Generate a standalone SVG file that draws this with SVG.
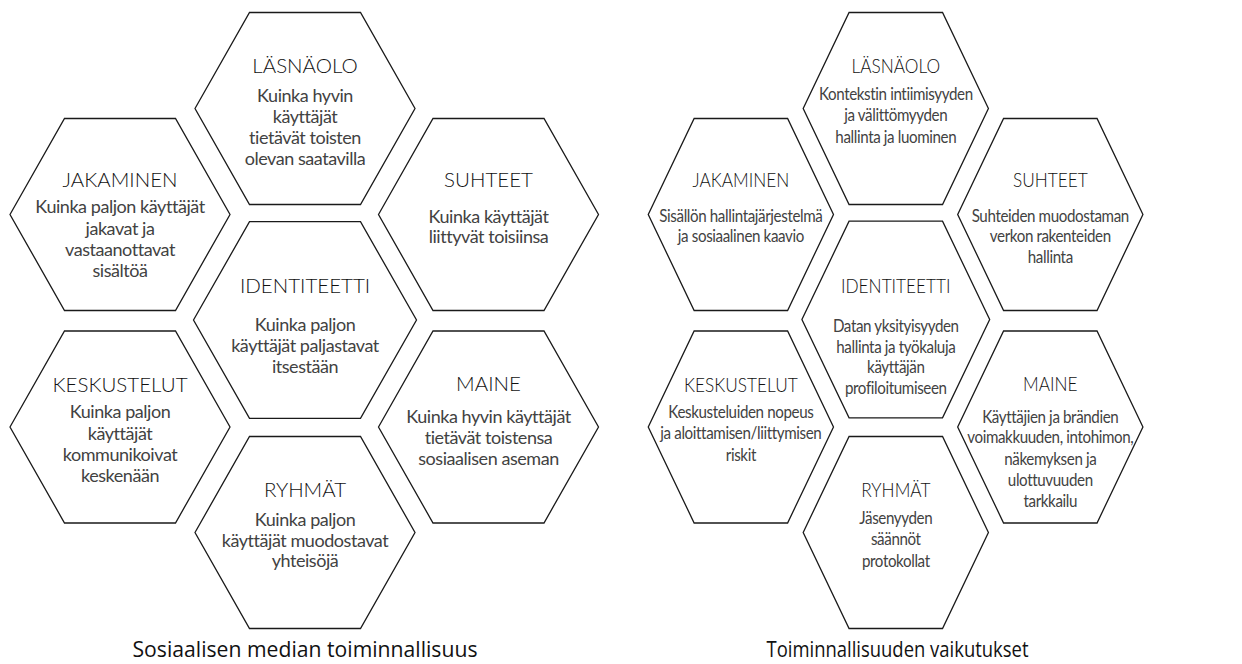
<svg xmlns="http://www.w3.org/2000/svg" width="1242" height="664" viewBox="0 0 1242 664">
<style>
.hex{fill:#fff;stroke:#1a1a1a;stroke-width:1.3;stroke-linejoin:miter;vector-effect:non-scaling-stroke}
.h{font-family:Lato,"Liberation Sans",sans-serif;font-weight:300;font-size:20.5px;fill:#111;text-anchor:middle}
.b{font-family:Lato,"Liberation Sans",sans-serif;font-size:18px;fill:#424242;text-anchor:middle;letter-spacing:-0.45px}
.t{font-family:"Open Sans","Liberation Sans",sans-serif;font-size:21px;fill:#111;text-anchor:middle}
</style>
<defs>
<polygon id="hx" class="hex" points="-110,0 -55.5,-96 55.5,-96 110,0 55.5,96 -55.5,96"/>
<polygon id="hxc" class="hex" points="-111.5,0 -55.5,-98.3 55.5,-98.3 111.5,0 55.5,98.3 -55.5,98.3"/>
</defs>
<rect width="1242" height="664" fill="#fff"/>
<g id="left-cluster" transform="translate(305,0)">
 <g id="l-lasnaolo">
  <use href="#hx" x="0" y="108.5"/>
  <text class="h" x="0" y="73.3">LÄSNÄOLO</text>
  <text class="b"><tspan x="0" y="102">Kuinka hyvin</tspan><tspan x="0" y="123">käyttäjät</tspan><tspan x="0" y="144">tietävät toisten</tspan><tspan x="0" y="165">olevan saatavilla</tspan></text>
 </g>
 <g id="l-jakaminen">
  <use href="#hx" x="-185" y="214.5"/>
  <text class="h" x="-185" y="187.3">JAKAMINEN</text>
  <text class="b"><tspan x="-185" y="213.3">Kuinka paljon käyttäjät</tspan><tspan x="-185" y="234.5">jakavat ja</tspan><tspan x="-185" y="255.5">vastaanottavat</tspan><tspan x="-185" y="276.7">sisältöä</tspan></text>
 </g>
 <g id="l-suhteet">
  <use href="#hx" x="183.5" y="214.5"/>
  <text class="h" x="183.5" y="186.7">SUHTEET</text>
  <text class="b"><tspan x="183.5" y="222.7">Kuinka käyttäjät</tspan><tspan x="183.5" y="243">liittyvät toisiinsa</tspan></text>
 </g>
 <g id="l-identiteetti">
  <use href="#hxc" x="0" y="320"/>
  <text class="h" x="0" y="293">IDENTITEETTI</text>
  <text class="b"><tspan x="0" y="331">Kuinka paljon</tspan><tspan x="0" y="352">käyttäjät paljastavat</tspan><tspan x="0" y="373">itsestään</tspan></text>
 </g>
 <g id="l-keskustelut">
  <use href="#hx" x="-185" y="427"/>
  <text class="h" x="-185" y="391.7">KESKUSTELUT</text>
  <text class="b"><tspan x="-185" y="418.3">Kuinka paljon</tspan><tspan x="-185" y="440">käyttäjät</tspan><tspan x="-185" y="461">kommunikoivat</tspan><tspan x="-185" y="482">keskenään</tspan></text>
 </g>
 <g id="l-maine">
  <use href="#hx" x="183.5" y="427"/>
  <text class="h" x="183.5" y="391">MAINE</text>
  <text class="b"><tspan x="183.5" y="422.7">Kuinka hyvin käyttäjät</tspan><tspan x="183.5" y="443.5">tietävät toistensa</tspan><tspan x="183.5" y="464.7">sosiaalisen aseman</tspan></text>
 </g>
 <g id="l-ryhmat">
  <use href="#hx" x="0" y="532.5"/>
  <text class="h" x="0" y="496.7">RYHMÄT</text>
  <text class="b"><tspan x="0" y="525.5">Kuinka paljon</tspan><tspan x="0" y="546.5">käyttäjät muodostavat</tspan><tspan x="0" y="567">yhteisöjä</tspan></text>
 </g>
</g>
<g id="right-cluster" transform="translate(895.8,0) scale(0.842,1)">
 <g id="r-lasnaolo">
  <use href="#hx" x="0" y="108.5"/>
  <text class="h" x="0" y="72.7">LÄSNÄOLO</text>
  <text class="b"><tspan x="0" y="100.5">Kontekstin intiimisyyden</tspan><tspan x="0" y="121.5">ja välittömyyden</tspan><tspan x="0" y="142.7">hallinta ja luominen</tspan></text>
 </g>
 <g id="r-jakaminen">
  <use href="#hx" x="-184" y="214.5"/>
  <text class="h" x="-184" y="187.3">JAKAMINEN</text>
  <text class="b"><tspan x="-184" y="221.7">Sisällön hallintajärjestelmä</tspan><tspan x="-184" y="242">ja sosiaalinen kaavio</tspan></text>
 </g>
 <g id="r-suhteet">
  <use href="#hx" x="183.5" y="214.5"/>
  <text class="h" x="183.5" y="187.3">SUHTEET</text>
  <text class="b"><tspan x="183.5" y="221.7">Suhteiden muodostaman</tspan><tspan x="183.5" y="242">verkon rakenteiden</tspan><tspan x="183.5" y="263">hallinta</tspan></text>
 </g>
 <g id="r-identiteetti">
  <use href="#hxc" x="0" y="319.5"/>
  <text class="h" x="0" y="293.3">IDENTITEETTI</text>
  <text class="b"><tspan x="0" y="331.7">Datan yksityisyyden</tspan><tspan x="0" y="352.7">hallinta ja työkaluja</tspan><tspan x="0" y="373.5">käyttäjän</tspan><tspan x="0" y="394.3">profiloitumiseen</tspan></text>
 </g>
 <g id="r-keskustelut">
  <use href="#hx" x="-184" y="427"/>
  <text class="h" x="-184" y="391.7">KESKUSTELUT</text>
  <text class="b"><tspan x="-184" y="418.3">Keskusteluiden nopeus</tspan><tspan x="-184" y="439.5">ja aloittamisen/liittymisen</tspan><tspan x="-184" y="461">riskit</tspan></text>
 </g>
 <g id="r-maine">
  <use href="#hx" x="183.5" y="427"/>
  <text class="h" x="183.5" y="390.7">MAINE</text>
  <text class="b"><tspan x="183.5" y="422.7">Käyttäjien ja brändien</tspan><tspan x="183.5" y="443.5">voimakkuuden, intohimon,</tspan><tspan x="183.5" y="465">näkemyksen ja</tspan><tspan x="183.5" y="486">ulottuvuuden</tspan><tspan x="183.5" y="507">tarkkailu</tspan></text>
 </g>
 <g id="r-ryhmat">
  <use href="#hx" x="0" y="532.5"/>
  <text class="h" x="0" y="497.3">RYHMÄT</text>
  <text class="b"><tspan x="0" y="524">Jäsenyyden</tspan><tspan x="0" y="545.5">säännöt</tspan><tspan x="0" y="566.7">protokollat</tspan></text>
 </g>
</g>
<g id="titles">
 <text class="t" x="305" y="657" textLength="345" lengthAdjust="spacingAndGlyphs">Sosiaalisen median toiminnallisuus</text>
 <text class="t" x="897.5" y="657" textLength="262" lengthAdjust="spacingAndGlyphs">Toiminnallisuuden vaikutukset</text>
</g>
</svg>
